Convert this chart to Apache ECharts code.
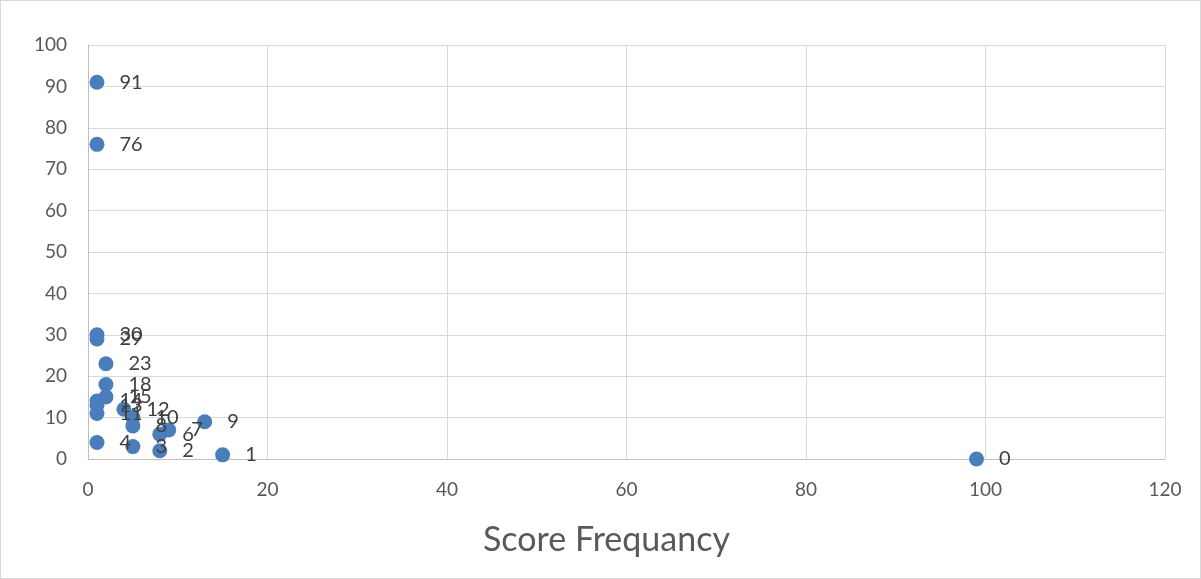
<!DOCTYPE html>
<html>
<head>
<meta charset="utf-8">
<script src="https://cdn.jsdelivr.net/npm/echarts@6/dist/echarts.min.js"></script>
<style>
  html, body { margin: 0; padding: 0; background: #fff; }
  #chart { width: 1201px; height: 579px; box-sizing: border-box; border: 1px solid #d9d9d9; }
</style>
</head>
<body>
<div id="chart"></div>
<script>
// score -> how many times it was seen
const scores      = [0, 1, 2, 3, 4, 6, 7, 8, 9, 10, 11, 12, 13, 14, 15, 18, 23, 29, 30, 76, 91];
const frequencies = [99, 15, 8, 5, 1, 8, 9, 5, 13, 5, 1, 4, 1, 1, 2, 2, 2, 1, 1, 1, 1];
const xTicks = [0, 20, 40, 60, 80, 100, 120];
const yTicks = [0, 10, 20, 30, 40, 50, 60, 70, 80, 90, 100];

const myChart = echarts.init(document.getElementById('chart'));

const points = scores.map((s, i) => [frequencies[i], s]);

const option = {
  animation: false,
  textStyle: { fontFamily: 'Lato, "Open Sans", sans-serif' },
  // axis title sits a bit left of plot centre, like the original
  title: {
    text: 'Score Frequancy',
    left: 482,
    top: 522,
    padding: 0,
    textStyle: { fontSize: 34, fontWeight: 'normal', color: '#595959' }
  },
  grid: { left: 87, right: 35, top: 44, bottom: 119 },
  xAxis: {
    type: 'value',
    min: xTicks[0],
    max: xTicks[xTicks.length - 1],
    interval: 20,
    axisLine: { show: true, lineStyle: { color: '#bfbfbf' } },
    axisTick: { show: false },
    axisLabel: { fontSize: 19, color: '#595959', margin: 21 },
    splitLine: { show: true, lineStyle: { color: '#d9d9d9' } }
  },
  yAxis: {
    type: 'value',
    min: yTicks[0],
    max: yTicks[yTicks.length - 1],
    interval: 10,
    axisLine: { show: true, lineStyle: { color: '#bfbfbf' } },
    axisTick: { show: false },
    axisLabel: { fontSize: 19, color: '#595959', margin: 21 },
    splitLine: { show: true, lineStyle: { color: '#d9d9d9' } }
  },
  series: [
    {
      type: 'scatter',
      data: points,
      symbolSize: 15,
      itemStyle: { color: '#4a7ebb', opacity: 1 },
      label: {
        show: true,
        position: 'right',
        distance: 15,
        fontSize: 20,
        color: '#404040',
        formatter: p => p.value[1]
      },
      labelLayout: { hideOverlap: false }
    }
  ]
};

myChart.setOption(option);
window.addEventListener('resize', function () {
  myChart.resize();
});
</script>
</body>
</html>
